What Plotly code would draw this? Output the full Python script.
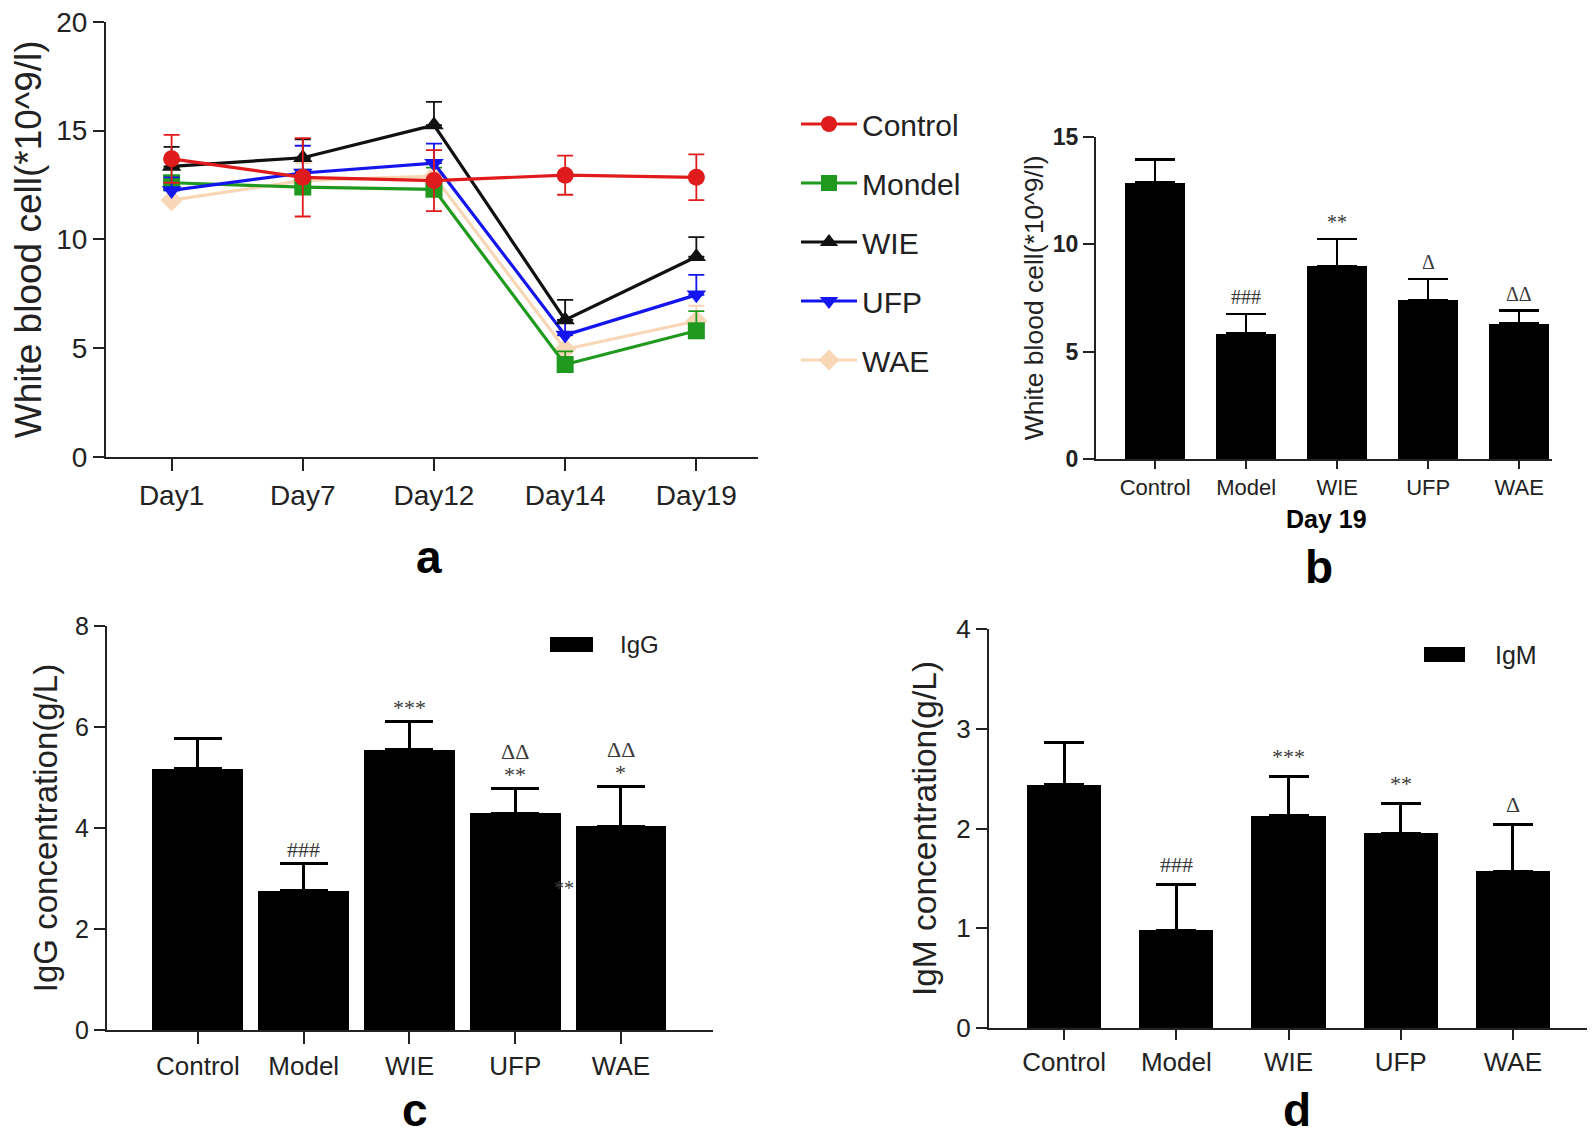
import plotly.graph_objects as go

# ---------------- data ----------------
days = ["Day1", "Day7", "Day12", "Day14", "Day19"]
groups = ["Control", "Model", "WIE", "UFP", "WAE"]
legend_names = ["Control", "Mondel", "WIE", "UFP", "WAE"]

wbc_control = [13.7, 12.85, 12.7, 12.95, 12.85]
wbc_control_err = [1.1, 1.8, 1.4, 0.9, 1.05]
wbc_model = [12.6, 12.4, 12.3, 4.25, 5.8]
wbc_model_err = [0.7, 0.8, 1.0, 0.6, 0.9]
wbc_wie = [13.35, 13.75, 15.25, 6.3, 9.2]
wbc_wie_err = [0.9, 0.85, 1.07, 0.92, 0.9]
wbc_ufp = [12.25, 13.05, 13.5, 5.6, 7.45]
wbc_ufp_err = [0.6, 1.25, 0.9, 0.7, 0.92]
wbc_wae = [11.8, 12.7, 12.9, 4.95, 6.25]
wbc_wae_err = [0.6, 0.8, 0.7, 0.6, 0.7]

wbc_day19 = [12.87, 5.85, 8.98, 7.40, 6.30]
wbc_day19_err = [1.07, 0.90, 1.26, 0.98, 0.60]
wbc_day19_marks = ["", "###", "**", "Δ", "ΔΔ"]

igg = [5.17, 2.76, 5.55, 4.29, 4.03]
igg_err = [0.60, 0.54, 0.56, 0.49, 0.79]
igg_marks = ["", "###", "***", "**", "*"]
igg_marks2 = ["", "", "", "ΔΔ", "ΔΔ"]

igm = [2.44, 0.98, 2.13, 1.95, 1.57]
igm_err = [0.42, 0.46, 0.39, 0.30, 0.47]
igm_marks = ["", "###", "***", "**", "Δ"]

# page is rendered with an 8px body margin -> figure sized to fill the rest
OFF = 8
W, H = 1595 - OFF, 1137 - OFF
SANS = "Liberation Sans, Arial, sans-serif"
SERIF = "Liberation Serif, Times New Roman, serif"
AX = "#222222"
MARK = "#3a3a3a"


def px_x(x):
    return (x - OFF) / W


def px_y(y):
    return 1 - (y - OFF) / H


fig = go.Figure()

# ---------------- panel a: line chart ----------------
series = [
    # (values, errors, name, color, symbol, rank, symmetric)
    (wbc_wae, wbc_wae_err, legend_names[4], "#f7d7b5", "diamond", 5, False),
    (wbc_model, wbc_model_err, legend_names[1], "#1f9a1f", "square", 2, False),
    (wbc_ufp, wbc_ufp_err, legend_names[3], "#1515f0", "triangle-down", 4, False),
    (wbc_wie, wbc_wie_err, legend_names[2], "#111111", "triangle-up", 3, False),
    (wbc_control, wbc_control_err, legend_names[0], "#e01b1b", "circle", 1, True),
]
for vals, errs, name, color, sym, rank, symm in series:
    err = dict(type="data", array=errs, color=color, thickness=1.8, width=8)
    if symm:
        err["symmetric"] = True
    else:
        err["symmetric"] = False
        err["arrayminus"] = [0] * len(errs)
    fig.add_trace(go.Scatter(
        x=days, y=vals, name=name, mode="lines+markers",
        line=dict(color=color, width=3.2),
        marker=dict(color=color, symbol=sym, size=17),
        error_y=err, legendrank=rank, legendgroup=name,
        xaxis="x", yaxis="y", showlegend=True,
    ))

# ---------------- panel b ----------------
fig.add_trace(go.Bar(
    x=groups, y=wbc_day19, width=0.66, marker=dict(color="black", line=dict(width=0)),
    error_y=dict(type="data", array=wbc_day19_err, arrayminus=[0] * 5, symmetric=False,
                 color="black", thickness=2.5, width=20),
    xaxis="x2", yaxis="y2", showlegend=False,
))

# ---------------- panel c ----------------
fig.add_trace(go.Bar(
    x=groups, y=igg, width=0.86, marker=dict(color="black", line=dict(width=0)),
    error_y=dict(type="data", array=igg_err, arrayminus=[0] * 5, symmetric=False,
                 color="black", thickness=3, width=24),
    xaxis="x3", yaxis="y3", showlegend=False,
))

# ---------------- panel d ----------------
fig.add_trace(go.Bar(
    x=groups, y=igm, width=0.66, marker=dict(color="black", line=dict(width=0)),
    error_y=dict(type="data", array=igm_err, arrayminus=[0] * 5, symmetric=False,
                 color="black", thickness=3, width=20),
    xaxis="x4", yaxis="y4", showlegend=False,
))

annotations = []


def add_marks(xref, yref, vals, errs, marks, shift, size):
    for g, v, e, m in zip(groups, vals, errs, marks):
        if m:
            annotations.append(dict(
                x=g, y=v + e, xref=xref, yref=yref, text=m, showarrow=False,
                yanchor="middle", yshift=shift,
                font=dict(family=SERIF, size=size, color=MARK)))


add_marks("x2", "y2", wbc_day19, wbc_day19_err, wbc_day19_marks, 17, 20)
add_marks("x3", "y3", igg, igg_err, igg_marks, 14, 22)
add_marks("x3", "y3", igg, igg_err, igg_marks2, 37, 22)
add_marks("x4", "y4", igm, igm_err, igm_marks, 20, 22)

# stray marker partly hidden in panel c
annotations.append(dict(x=3.57, y=2.81, xref="x3", yref="y3", text="**", showarrow=False,
                        xanchor="right", yanchor="middle",
                        font=dict(family=SERIF, size=20, color=MARK)))

# panel letters
for letter, (lx, ly) in zip("abcd", [(429, 557), (1319, 567), (415, 1110), (1297, 1110)]):
    annotations.append(dict(x=px_x(lx), y=px_y(ly), xref="paper", yref="paper",
                            text=f"<b>{letter}</b>", showarrow=False,
                            xanchor="center", yanchor="middle",
                            font=dict(family=SANS, size=46, color="black")))

# Day 19 label
annotations.append(dict(x=px_x(1326), y=px_y(519), xref="paper", yref="paper",
                        text="<b>Day 19</b>", showarrow=False, xanchor="center", yanchor="middle",
                        font=dict(family=SANS, size=25, color="black")))

# manual legends for panels c and d
shapes = []
for (rx0, rx1, ry0, ry1), (tx, ty), txt, fs in [
    ((550, 593, 637, 652), (618, 644), "IgG", 24),
    ((1424, 1465, 647, 662), (1493, 655), "IgM", 25),
]:
    shapes.append(dict(type="rect", xref="paper", yref="paper",
                       x0=px_x(rx0), x1=px_x(rx1), y0=px_y(ry1), y1=px_y(ry0),
                       fillcolor="black", line=dict(width=0)))
    annotations.append(dict(x=px_x(tx), y=px_y(ty), xref="paper", yref="paper", text=txt,
                            showarrow=False, xanchor="left", yanchor="middle",
                            font=dict(family=SANS, size=fs, color="#222")))


def xaxis(domain, rng, size, ticklen):
    return dict(domain=domain, range=rng, type="category", showline=True, linecolor=AX,
                linewidth=2, ticks="outside", ticklen=ticklen, tickwidth=2, tickcolor=AX,
                showgrid=False, zeroline=False, automargin=False, ticklabeloverflow="allow",
                tickfont=dict(family=SANS, size=size, color="#222"))


def yaxis(domain, rng, dtick, size, title, tsize, standoff, anchor, bold=False):
    return dict(domain=domain, range=rng, dtick=dtick, showline=True, linecolor=AX,
                linewidth=2, ticks="outside", ticklen=11, tickwidth=2, tickcolor=AX,
                showgrid=False, zeroline=False, anchor=anchor, automargin=False,
                ticklabeloverflow="allow",
                tickfont=dict(family=SANS, size=size, color="#222",
                              weight="bold" if bold else "normal"),
                title=dict(text=title, standoff=standoff,
                           font=dict(family=SANS, size=tsize, color="#222")))


fig.update_layout(
    width=W, height=H, margin=dict(l=0, r=0, t=0, b=0, autoexpand=False),
    paper_bgcolor="white", plot_bgcolor="white",
    xaxis=dict(xaxis([px_x(106), px_x(758)], [-0.5, 4.47], 28, 12), anchor="y"),
    yaxis=yaxis([px_y(457), px_y(21.7)], [0, 20], 5, 28, "White blood cell(*10^9/l)", 37, 6, "x"),
    xaxis2=dict(xaxis([px_x(1096), px_x(1552)], [-0.65, 4.36], 22, 8), anchor="y2"),
    yaxis2=yaxis([px_y(459), px_y(136.7)], [0, 15], 5, 23, "White blood cell(*10^9/l)", 26.5, 2, "x2", bold=True),
    xaxis3=dict(xaxis([px_x(107), px_x(713)], [-0.86, 4.87], 26, 12), anchor="y3"),
    yaxis3=yaxis([px_y(1030), px_y(626)], [0, 8], 2, 25, "IgG concentration(g/L)", 33, 8, "x3"),
    xaxis4=dict(xaxis([px_x(989), px_x(1588)], [-0.67, 4.67], 26, 10), anchor="y4"),
    yaxis4=yaxis([px_y(1028), px_y(629)], [0, 4], 1, 26, "IgM concentration(g/L)", 33.5, 10, "x4"),
    legend=dict(x=px_x(796), y=px_y(98), xanchor="left", yanchor="top",
                font=dict(family=SANS, size=30, color="#222"), tracegroupgap=17,
                itemwidth=56, bgcolor="rgba(0,0,0,0)", itemsizing="trace"),
    annotations=annotations, shapes=shapes, bargap=0,
)

fig.write_html("out.html")
